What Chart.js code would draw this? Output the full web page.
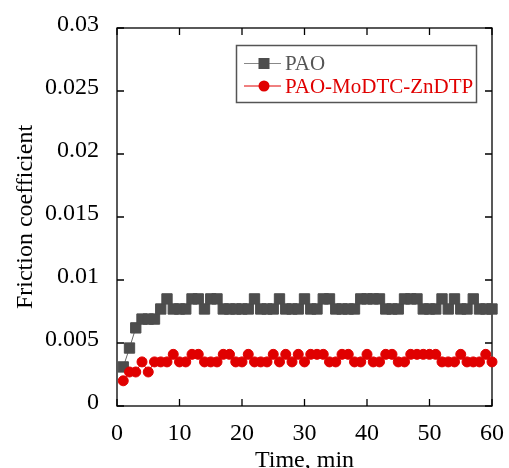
<!DOCTYPE html>
<html>
<head>
<meta charset="utf-8">
<script src="https://cdn.jsdelivr.net/npm/chart.js@4.4.0/dist/chart.umd.min.js"></script>
<style>
  html, body { margin: 0; padding: 0; background: #fff; }
  #wrap { width: 509px; height: 468px; }
</style>
</head>
<body>
<div id="wrap"><canvas id="chart" width="509" height="468"></canvas></div>
<script>
// --- data ---
const times = [1,2,3,4,5,6,7,8,9,10,11,12,13,14,15,16,17,18,19,20,
  21,22,23,24,25,26,27,28,29,30,31,32,33,34,35,36,37,38,39,40,
  41,42,43,44,45,46,47,48,49,50,51,52,53,54,55,56,57,58,59,60];

const paoValues = [0.0031,0.0046,0.0062,0.0069,0.0069,0.0069,0.0077,0.0085,0.0077,0.0077,
  0.0077,0.0085,0.0085,0.0077,0.0085,0.0085,0.0077,0.0077,0.0077,0.0077,
  0.0077,0.0085,0.0077,0.0077,0.0077,0.0085,0.0077,0.0077,0.0077,0.0085,
  0.0077,0.0077,0.0085,0.0085,0.0077,0.0077,0.0077,0.0077,0.0085,0.0085,
  0.0085,0.0085,0.0077,0.0077,0.0077,0.0085,0.0085,0.0085,0.0077,0.0077,
  0.0077,0.0085,0.0077,0.0085,0.0077,0.0077,0.0085,0.0077,0.0077,0.0077];

const moValues = [0.0020,0.0027,0.0027,0.0035,0.0027,0.0035,0.0035,0.0035,0.0041,0.0035,
  0.0035,0.0041,0.0041,0.0035,0.0035,0.0035,0.0041,0.0041,0.0035,0.0035,
  0.0041,0.0035,0.0035,0.0035,0.0041,0.0035,0.0041,0.0035,0.0041,0.0035,
  0.0041,0.0041,0.0041,0.0035,0.0035,0.0041,0.0041,0.0035,0.0035,0.0041,
  0.0035,0.0035,0.0041,0.0041,0.0035,0.0035,0.0041,0.0041,0.0041,0.0041,
  0.0041,0.0035,0.0035,0.0035,0.0041,0.0035,0.0035,0.0035,0.0041,0.0035];

const seriesNames = ['PAO', 'PAO-MoDTC-ZnDTP'];
const xTicks = [0, 10, 20, 30, 40, 50, 60];
const yTicks = [0, 0.005, 0.01, 0.015, 0.02, 0.025, 0.03];
const yTickLabels = ['0', '0.005', '0.01', '0.015', '0.02', '0.025', '0.03'];

const FONT = '"Liberation Serif", "Times New Roman", serif';
const GRAY = '#4d4d4d';
const RED = '#e00000';

// box round the plot with inward ticks on all four sides
const framePlugin = {
  id: 'frame',
  beforeDatasetsDraw(chart) {
    const { ctx, chartArea: a, scales } = chart;
    const len = 7;
    ctx.save();
    ctx.strokeStyle = '#000';
    ctx.lineWidth = 1.3;
    ctx.strokeRect(a.left, a.top, a.right - a.left, a.bottom - a.top);
    ctx.beginPath();
    xTicks.forEach(v => {
      const x = scales.x.getPixelForValue(v);
      ctx.moveTo(x, a.bottom); ctx.lineTo(x, a.bottom - len);
      ctx.moveTo(x, a.top); ctx.lineTo(x, a.top + len);
    });
    yTicks.forEach(v => {
      const y = scales.y.getPixelForValue(v);
      ctx.moveTo(a.left, y); ctx.lineTo(a.left + len, y);
      ctx.moveTo(a.right, y); ctx.lineTo(a.right - len, y);
    });
    ctx.stroke();
    ctx.restore();
  }
};

// legend in a box inside the plot, top right
const legendPlugin = {
  id: 'boxLegend',
  afterDraw(chart) {
    const { ctx } = chart;
    ctx.save();
    ctx.strokeStyle = '#555';
    ctx.lineWidth = 1.5;
    ctx.strokeRect(236.5, 45.5, 240, 57);
    const rows = [
      { y: 63.5, base: 70, line: '#888', mark: GRAY, text: '#555', square: true },
      { y: 86, base: 93, line: RED, mark: RED, text: RED, square: false }
    ];
    rows.forEach((r, i) => {
      ctx.strokeStyle = r.line;
      ctx.lineWidth = 1;
      ctx.beginPath();
      ctx.moveTo(244, r.y); ctx.lineTo(281, r.y);
      ctx.stroke();
      ctx.fillStyle = r.mark;
      if (r.square) {
        ctx.fillRect(258.5, r.y - 5.5, 11, 11);
      } else {
        ctx.beginPath();
        ctx.arc(264, r.y, 5.5, 0, Math.PI * 2);
        ctx.fill();
      }
      ctx.fillStyle = r.text;
      ctx.font = '21px ' + FONT;
      ctx.textBaseline = 'alphabetic';
      ctx.textAlign = 'left';
      ctx.fillText(seriesNames[i], 285, r.base);
    });
    ctx.restore();
  }
};

Chart.defaults.font.family = FONT;
Chart.defaults.color = '#000';

new Chart(document.getElementById('chart').getContext('2d'), {
  type: 'line',
  data: {
    datasets: [
      {
        label: seriesNames[0],
        data: times.map((t, i) => ({ x: t, y: paoValues[i] })),
        borderColor: '#666',
        borderWidth: 1,
        pointStyle: 'rect',
        pointRadius: 7.3,
        pointBackgroundColor: GRAY,
        pointBorderColor: GRAY,
        pointBorderWidth: 1,
        clip: false,
        order: 2
      },
      {
        label: seriesNames[1],
        data: times.map((t, i) => ({ x: t, y: moValues[i] })),
        borderColor: RED,
        borderWidth: 1,
        pointStyle: 'circle',
        pointRadius: 5,
        pointBackgroundColor: RED,
        pointBorderColor: RED,
        pointBorderWidth: 1,
        clip: false,
        order: 1
      }
    ]
  },
  options: {
    responsive: false,
    animation: false,
    devicePixelRatio: 1,
    layout: { padding: { left: 0, right: 15, top: 28, bottom: 0 } },
    plugins: { legend: { display: false }, tooltip: { enabled: false } },
    scales: {
      x: {
        type: 'linear',
        min: 0, max: 60,
        afterFit(scale) { scale.height = 62; },
        afterBuildTicks(scale) { scale.ticks = xTicks.map(v => ({ value: v })); },
        grid: { display: false },
        border: { display: false },
        ticks: { padding: 5, font: { size: 24 }, color: '#000' },
        title: {
          display: true, text: 'Time, min',
          font: { size: 24, lineHeight: 1 }, color: '#000',
          padding: { top: 0, bottom: -5 }
        }
      },
      y: {
        type: 'linear',
        min: 0, max: 0.03,
        afterFit(scale) { scale.width = 117; },
        afterBuildTicks(scale) { scale.ticks = yTicks.map(v => ({ value: v })); },
        grid: { display: false },
        border: { display: false },
        ticks: {
          padding: 10, labelOffset: -3, font: { size: 24 }, color: '#000',
          callback: (v, i) => yTickLabels[i]
        },
        title: {
          display: true, text: 'Friction coefficient',
          font: { size: 24, lineHeight: 1 }, color: '#000',
          padding: { top: 14, bottom: 0 }
        }
      }
    }
  },
  plugins: [framePlugin, legendPlugin]
});
</script>
</body>
</html>
